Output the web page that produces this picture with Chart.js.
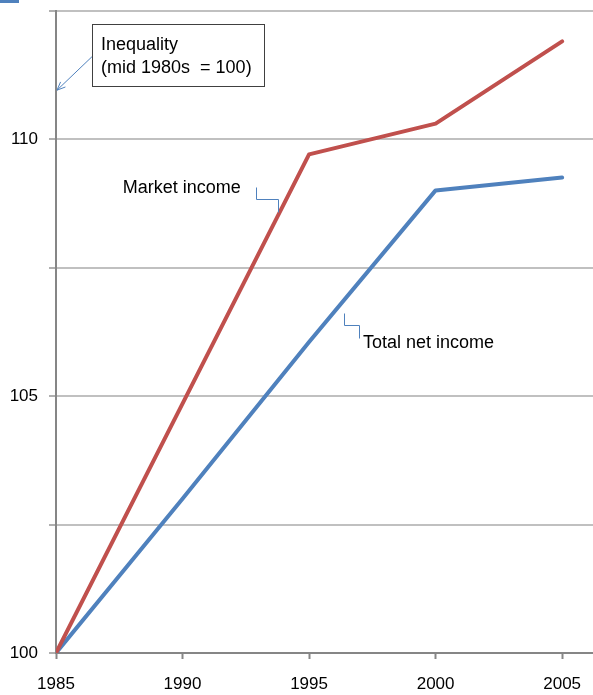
<!DOCTYPE html>
<html>
<head>
<meta charset="utf-8">
<script src="https://cdn.jsdelivr.net/npm/chart.js@4/dist/chart.umd.min.js"></script>
<style>
    html, body { margin: 0; padding: 0; background: #fff; }
    #wrap { position: relative; width: 593px; height: 695px; }
</style>
</head>
<body>
<div id="wrap"><canvas id="chart"></canvas></div>
<script>
// ============================
// Inequality index, mid 1980s = 100
// ============================

const years = [1985, 1990, 1995, 2000, 2005];
const marketIncome = [100, 104.85, 109.7, 110.3, 111.9];
const totalNetIncome = [100, 103.0, 106.05, 109.0, 109.25];
const xTicks = [1985, 1990, 1995, 2000, 2005];
const yLabelled = [100, 105, 110];

const RED = '#c0504d';
const BLUE = '#4f81bd';
const FONT = '"Liberation Sans", Arial, sans-serif';

// Callouts, placed in data units so they follow the scales
const notes = {
    box: { x1: 1986.42, x2: 1993.22, y1: 112.24, y2: 111.03 },
    boxLines: [
        { text: 'Inequality', x: 1986.78, y: 111.73 },
        { text: '(mid 1980s  = 100)', x: 1986.78, y: 111.28 }
    ],
    arrow: { from: [1986.42, 111.6], to: [1985.04, 110.95] },
    market: { text: 'Market income', x: 1987.64, y: 108.95,
              leader: [[1992.91, 109.07], [1992.91, 108.83], [1993.77, 108.83], [1993.77, 108.58]] },
    net: { text: 'Total net income', x: 1997.13, y: 105.94,
           leader: [[1996.38, 106.61], [1996.38, 106.38], [1996.98, 106.38], [1996.98, 106.13]] }
};

const calloutPlugin = {
    id: 'callouts',
    afterDraw(chart) {
        const { ctx, scales: { x, y } } = chart;
        const px = v => x.getPixelForValue(v);
        const py = v => y.getPixelForValue(v);

        ctx.save();

        // little blue marker in the corner
        ctx.fillStyle = BLUE;
        ctx.fillRect(0, 0, 19, 3);

        // boxed title
        const b = notes.box;
        ctx.fillStyle = '#fff';
        ctx.fillRect(px(b.x1), py(b.y1), px(b.x2) - px(b.x1), py(b.y2) - py(b.y1));
        ctx.strokeStyle = '#404040';
        ctx.lineWidth = 1;
        ctx.strokeRect(Math.round(px(b.x1)) + 0.5, Math.round(py(b.y1)) + 0.5,
            Math.round(px(b.x2) - px(b.x1)), Math.round(py(b.y2) - py(b.y1)));

        ctx.fillStyle = '#000';
        ctx.font = '18px ' + FONT;
        ctx.textBaseline = 'alphabetic';
        ctx.textAlign = 'left';
        notes.boxLines.forEach(l => ctx.fillText(l.text, px(l.x), py(l.y)));

        // arrow pointing at the y axis
        const [fx, fy] = [px(notes.arrow.from[0]), py(notes.arrow.from[1])];
        const [tx, ty] = [px(notes.arrow.to[0]), py(notes.arrow.to[1])];
        ctx.strokeStyle = BLUE;
        ctx.lineWidth = 1;
        ctx.beginPath();
        ctx.moveTo(fx, fy);
        ctx.lineTo(tx, ty);
        const ang = Math.atan2(ty - fy, tx - fx);
        const head = 9;
        ctx.moveTo(tx - head * Math.cos(ang - 0.4), ty - head * Math.sin(ang - 0.4));
        ctx.lineTo(tx, ty);
        ctx.lineTo(tx - head * Math.cos(ang + 0.4), ty - head * Math.sin(ang + 0.4));
        ctx.stroke();

        // series labels with elbow leaders
        [notes.market, notes.net].forEach(n => {
            ctx.fillStyle = '#000';
            ctx.fillText(n.text, px(n.x), py(n.y));
            ctx.strokeStyle = BLUE;
            ctx.beginPath();
            n.leader.forEach(([lx, ly], i) => {
                const X = Math.round(px(lx)) + 0.5, Y = Math.round(py(ly)) + 0.5;
                if (i === 0) ctx.moveTo(X, Y); else ctx.lineTo(X, Y);
            });
            ctx.stroke();
        });

        ctx.restore();
    }
};

new Chart(document.getElementById('chart'), {
    type: 'line',
    data: {
        datasets: [{
            label: 'Market income',
            data: years.map((yr, i) => ({ x: yr, y: marketIncome[i] })),
            borderColor: RED,
            borderWidth: 4,
            pointRadius: 0,
            tension: 0,
            borderJoinStyle: 'round',
            borderCapStyle: 'round'
        }, {
            label: 'Total net income',
            data: years.map((yr, i) => ({ x: yr, y: totalNetIncome[i] })),
            borderColor: BLUE,
            borderWidth: 4,
            pointRadius: 0,
            tension: 0,
            borderJoinStyle: 'round',
            borderCapStyle: 'round'
        }]
    },
    options: {
        responsive: true,
        maintainAspectRatio: false,
        animation: false,
        layout: { padding: { top: 10.5, right: 0, left: 0, bottom: 0 } },
        scales: {
            x: {
                type: 'linear',
                min: 1985,
                max: 2006.22,
                afterBuildTicks: s => { s.ticks = xTicks.map(v => ({ value: v })); },
                afterFit: s => {
                    s.height = 42;
                    s.paddingLeft = 0;
                    s.paddingRight = 0;
                },
                grid: {
                    drawOnChartArea: false,
                    drawTicks: true,
                    tickLength: 6,
                    tickColor: '#868686',
                    tickWidth: 2
                },
                border: { color: '#868686', width: 2 },
                ticks: {
                    color: '#000',
                    padding: 15,
                    maxRotation: 0,
                    font: { family: FONT, size: 17 },
                    callback: v => String(v)
                }
            },
            y: {
                min: 100,
                max: 112.5,
                afterBuildTicks: s => {
                    const t = [];
                    for (let v = 100; v <= 112.5; v += 2.5) t.push({ value: v });
                    s.ticks = t;
                },
                afterFit: s => {
                    s.width = 56;
                    s.paddingTop = 0;
                    s.paddingBottom = 0;
                },
                grid: {
                    color: '#c0c0c0',
                    lineWidth: 2,
                    tickLength: 7,
                    tickColor: '#b0b0b0'
                },
                border: { color: '#868686', width: 2 },
                ticks: {
                    color: '#000',
                    padding: 11,
                    font: { family: FONT, size: 17 },
                    callback: v => yLabelled.includes(v) ? String(v) : ''
                }
            }
        },
        plugins: {
            legend: { display: false },
            tooltip: { enabled: false }
        }
    },
    plugins: [calloutPlugin]
});
</script>
</body>
</html>
